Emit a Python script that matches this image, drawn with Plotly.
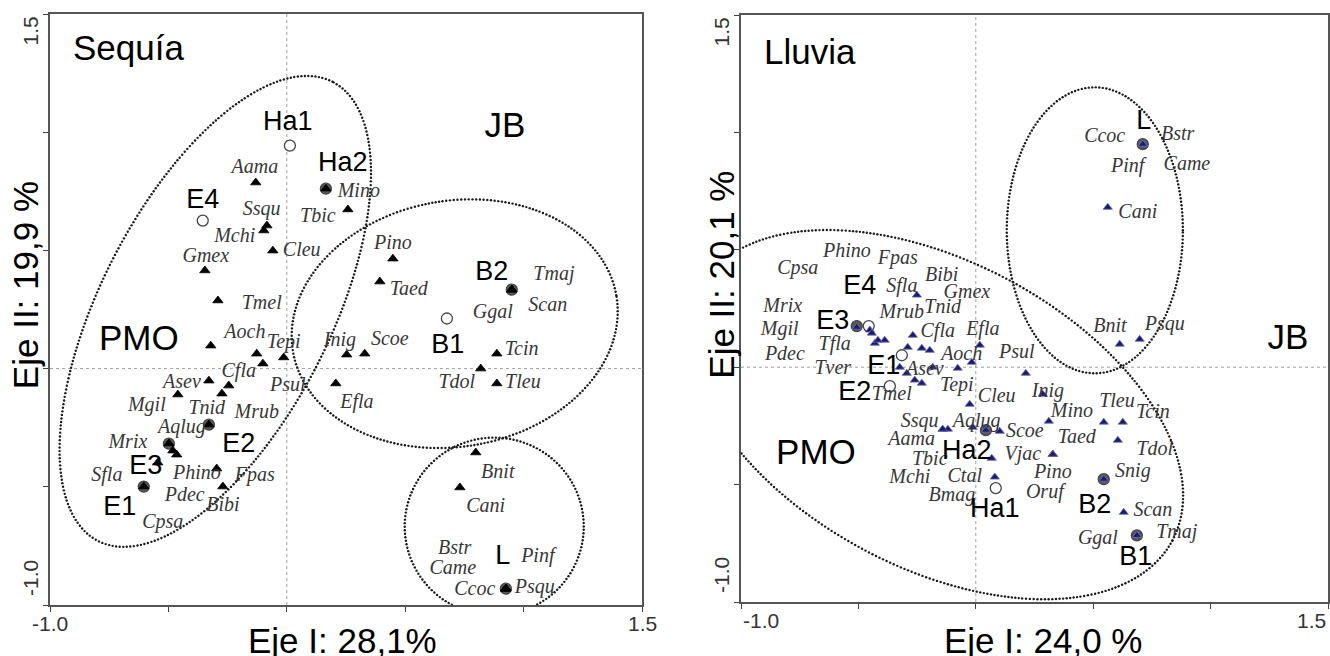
import math
import plotly.graph_objects as go

# ---------------- Sequía (left panel) ----------------
seq_sp_names = ["Aama", "Ssqu", "Mchi", "Cleu", "Gmex", "Tmel", "Mino", "Tbic", "Pino", "Taed",
                "Tmaj", "Scan", "Ggal", "Aoch", "Tepi", "Cfla", "Psul", "Asev", "Tnid", "Mrub",
                "Mgil", "Aqlug", "Mrix", "Phino", "Fpas", "Bibi", "Sfla", "Pdec", "Cpsa", "Inig",
                "Scoe", "Tcin", "Tdol", "Tleu", "Efla", "Bnit", "Cani", "Bstr", "Came", "Pinf",
                "Ccoc", "Psqu"]
seq_sp_x = [-0.131, -0.084, -0.097, -0.059, -0.346, -0.291, 0.165, 0.258, 0.448, 0.393,
            0.950, 0.950, 0.950, -0.321, -0.013, -0.127, -0.101, -0.329, -0.274, -0.245,
            -0.460, -0.329, -0.498, -0.296, -0.465, -0.270, -0.604, -0.481, -0.545, 0.253,
            0.329, 0.887, 0.819, 0.887, 0.207, 0.798, 0.731, 0.925, 0.925, 0.925,
            0.925, 0.925]
seq_sp_y = [0.787, 0.605, 0.584, 0.499, 0.415, 0.288, 0.761, 0.673, 0.465, 0.368,
            0.334, 0.334, 0.334, 0.097, 0.047, 0.063, 0.021, -0.051, -0.106, -0.072,
            -0.110, -0.237, -0.317, -0.423, -0.364, -0.499, -0.499, -0.347, -0.398, 0.059,
            0.063, 0.063, 0.000, -0.063, -0.063, -0.355, -0.503, -0.931, -0.931, -0.931,
            -0.931, -0.931]
seq_sp_lx = [-0.135, -0.106, -0.220, 0.063, -0.342, -0.106, 0.304, 0.131, 0.448, 0.515,
             1.128, 1.102, 0.870, -0.177, -0.013, -0.203, 0.004, -0.443, -0.338, -0.127,
             -0.591, -0.443, -0.671, -0.380, -0.135, -0.270, -0.760, -0.431, -0.524, 0.224,
             0.435, 0.992, 0.718, 0.997, 0.296, 0.891, 0.840, 0.709, 0.701, 1.060,
             0.794, 1.047]
seq_sp_ly = [0.850, 0.673, 0.558, 0.499, 0.474, 0.275, 0.745, 0.643, 0.529, 0.334,
             0.398, 0.266, 0.237, 0.152, 0.110, -0.013, -0.072, -0.059, -0.169, -0.186,
             -0.157, -0.250, -0.313, -0.444, -0.453, -0.580, -0.453, -0.537, -0.651, 0.118,
             0.123, 0.080, -0.063, -0.063, -0.144, -0.440, -0.584, -0.761, -0.846, -0.799,
             -0.935, -0.926]

seq_site_names = ["Ha1", "Ha2", "E4", "B2", "B1", "E2", "E3", "E1", "L"]
seq_site_x = [0.013, 0.165, -0.355, 0.950, 0.676, -0.329, -0.498, -0.604, 0.925]
seq_site_y = [0.943, 0.761, 0.626, 0.334, 0.212, -0.237, -0.317, -0.499, -0.931]
seq_site_lx = [0.004, 0.236, -0.355, 0.866, 0.680, -0.203, -0.596, -0.705, 0.912]
seq_site_ly = [1.036, 0.863, 0.707, 0.402, 0.093, -0.325, -0.419, -0.592, -0.799]

seq_group_names = ["PMO", "JB"]
seq_group_x = [-0.625, 0.921]
seq_group_y = [0.114, 1.015]

# ellipses: centre x, centre y, semi-axis a (along angle), semi-axis b, angle (deg)
seq_ell_cx = [-0.302, 0.709, 0.876]
seq_ell_cy = [0.242, 0.190, -0.668]
seq_ell_a = [1.090, 0.693, 0.378]
seq_ell_b = [0.486, 0.520, 0.376]
seq_ell_ang = [63, 10, 0]

# ---------------- Lluvia (right panel) ----------------
llu_sp_names = ["Phino", "Fpas", "Cpsa", "Bibi", "Sfla", "Gmex", "Mrix", "Tnid", "Mrub", "Mgil",
                "Pdec", "Tfla", "Tver", "Cfla", "Efla", "Aoch", "Asev", "Tepi", "Tmel", "Cleu",
                "Psul", "Ssqu", "Aqlug", "Scoe", "Aama", "Vjac", "Tbic", "Mchi", "Ctal", "Pino",
                "Oruf", "Bmag", "Inig", "Mino", "Tleu", "Tcin", "Taed", "Tdol", "Snig", "Scan",
                "Ggal", "Tmaj", "Bnit", "Psqu", "Ccoc", "Bstr", "Pinf", "Came", "Cani"]
llu_sp_x = [-0.430, -0.268, -0.388, -0.196, -0.251, -0.260, -0.507, -0.230, -0.290, -0.451,
            -0.443, -0.417, -0.324, -0.230, 0.017, -0.077, -0.183, -0.017, -0.294, -0.026,
            0.213, -0.141, -0.013, 0.102, -0.119, 0.068, 0.043, -0.141, 0.081, 0.328,
            0.328, 0.043, 0.285, 0.311, 0.545, 0.626, 0.328, 0.605, 0.545, 0.630,
            0.686, 0.686, 0.613, 0.698, 0.711, 0.711, 0.711, 0.711, 0.562]
llu_sp_y = [0.102, 0.136, 0.115, 0.072, 0.307, -0.055, 0.170, 0.081, 0.085, 0.158,
            0.145, 0.115, 0.000, -0.068, 0.094, -0.004, 0.000, 0.021, -0.026, -0.158,
            -0.026, -0.264, -0.256, -0.273, -0.264, -0.388, -0.268, -0.264, -0.468, -0.371,
            -0.371, -0.268, -0.115, -0.230, -0.234, -0.234, -0.371, -0.311, -0.477, -0.618,
            -0.716, -0.716, 0.098, 0.119, 0.950, 0.950, 0.950, 0.950, 0.681]
llu_sp_lx = [-0.549, -0.332, -0.758, -0.145, -0.315, -0.038, -0.822, -0.141, -0.315, -0.835,
             -0.813, -0.601, -0.609, -0.162, 0.030, -0.060, -0.217, -0.081, -0.358, 0.089,
             0.175, -0.239, 0.004, 0.209, -0.273, 0.200, -0.196, -0.281, -0.047, 0.328,
             0.294, -0.102, 0.307, 0.409, 0.601, 0.754, 0.430, 0.762, 0.669, 0.754,
             0.520, 0.856, 0.571, 0.805, 0.549, 0.860, 0.647, 0.899, 0.690]
llu_sp_ly = [0.490, 0.460, 0.417, 0.388, 0.341, 0.315, 0.256, 0.251, 0.230, 0.158,
             0.051, 0.094, -0.009, 0.149, 0.158, 0.051, -0.013, -0.081, -0.119, -0.128,
             0.060, -0.234, -0.234, -0.277, -0.311, -0.375, -0.396, -0.473, -0.468, -0.451,
             -0.537, -0.549, -0.106, -0.192, -0.149, -0.196, -0.302, -0.353, -0.447, -0.613,
             -0.733, -0.707, 0.170, 0.179, 0.980, 0.988, 0.852, 0.860, 0.656]

llu_site_names = ["L", "E4", "E3", "E1", "E2", "Ha2", "Ha1", "B2", "B1"]
llu_site_x = [0.711, -0.456, -0.507, -0.315, -0.366, 0.043, 0.085, 0.545, 0.686]
llu_site_y = [0.950, 0.175, 0.175, 0.051, -0.081, -0.268, -0.515, -0.477, -0.716]
llu_site_lx = [0.715, -0.494, -0.609, -0.392, -0.515, -0.038, 0.081, 0.507, 0.681]
llu_site_ly = [1.043, 0.341, 0.192, 0.000, -0.111, -0.362, -0.609, -0.592, -0.813]

llu_group_names = ["PMO", "JB"]
llu_group_x = [-0.681, 1.329]
llu_group_y = [-0.375, 0.115]

llu_ell_cx = [-0.170, 0.507]
llu_ell_cy = [-0.202, 0.583]
llu_ell_a = [1.141, 0.375]
llu_ell_b = [0.652, 0.609]
llu_ell_ang = [-28, 0]

# axis texts
ticks = [-1.0, -0.5, 0.0, 0.5, 1.0, 1.5]
tick_min_label = "-1.0"
tick_max_label = "1.5"
panel_titles = ["Sequía", "Lluvia"]
x_titles = ["Eje I: 28,1%", "Eje I: 24,0 %"]
y_titles = ["Eje II: 19,9 %", "Eje II: 20,1 %"]

SANS = "Liberation Sans, Arial, sans-serif"
SERIF = "Liberation Serif, Times New Roman, serif"


def ellipse_dots(cx, cy, a, b, ang_deg, step=0.0145):
    th = math.radians(ang_deg)
    n = 3000
    pts = []
    for i in range(n + 1):
        t = 2 * math.pi * i / n
        pts.append((cx + a * math.cos(t) * math.cos(th) - b * math.sin(t) * math.sin(th),
                    cy + a * math.cos(t) * math.sin(th) + b * math.sin(t) * math.cos(th)))
    xs, ys = [pts[0][0]], [pts[0][1]]
    acc = 0.0
    for (x0, y0), (x1, y1) in zip(pts[:-1], pts[1:]):
        acc += math.hypot(x1 - x0, y1 - y0)
        if acc >= step:
            xs.append(x1)
            ys.append(y1)
            acc = 0.0
    return xs, ys


fig = go.Figure()


def add_panel(xa, ya, sp_names, sp_x, sp_y, sp_lx, sp_ly, site_names, site_x, site_y,
              site_lx, site_ly, grp, gx, gy, ecx, ecy, ea, eb, eang, tri_color, tri_line, tri_size,
              sp_color):
    # dotted ellipses
    ex, ey = [], []
    for cx, cy, a, b, an in zip(ecx, ecy, ea, eb, eang):
        xs, ys = ellipse_dots(cx, cy, a, b, an)
        ex += xs + [None]
        ey += ys + [None]
    fig.add_trace(go.Scatter(x=ex, y=ey, mode="markers", xaxis=xa, yaxis=ya,
                             marker=dict(size=2.4, color="#1a1a1a", line=dict(width=0)),
                             cliponaxis=False, hoverinfo="skip"))
    # site circles (filled grey when a species sits on it)
    fills = []
    for sx, sy in zip(site_x, site_y):
        occupied = any(abs(sx - px) < 0.01 and abs(sy - py) < 0.01 for px, py in zip(sp_x, sp_y))
        fills.append("#5a5a5a" if occupied else "white")
    fig.add_trace(go.Scatter(x=site_x, y=site_y, mode="markers", xaxis=xa, yaxis=ya,
                             marker=dict(size=11, color=fills, symbol="circle",
                                         line=dict(color="#444444", width=1.3)),
                             cliponaxis=False, hoverinfo="skip"))
    # species triangles
    fig.add_trace(go.Scatter(x=sp_x, y=sp_y, mode="markers", xaxis=xa, yaxis=ya,
                             marker=dict(size=tri_size, color=tri_color, symbol="triangle-up",
                                         line=dict(color=tri_line, width=0.8)),
                             cliponaxis=False, hoverinfo="skip"))
    # species labels
    fig.add_trace(go.Scatter(x=sp_lx, y=sp_ly, mode="text", text=sp_names, xaxis=xa, yaxis=ya,
                             textposition="middle center",
                             textfont=dict(family=SERIF, size=20, color=sp_color, style="italic"),
                             cliponaxis=False, hoverinfo="skip"))
    # site labels
    fig.add_trace(go.Scatter(x=site_lx, y=site_ly, mode="text", text=site_names, xaxis=xa, yaxis=ya,
                             textposition="middle center",
                             textfont=dict(family=SANS, size=27, color="black"),
                             cliponaxis=False, hoverinfo="skip"))
    # group labels
    fig.add_trace(go.Scatter(x=gx, y=gy, mode="text", text=grp, xaxis=xa, yaxis=ya,
                             textposition="middle center",
                             textfont=dict(family=SANS, size=35, color="black"),
                             cliponaxis=False, hoverinfo="skip"))


add_panel("x", "y", seq_sp_names, seq_sp_x, seq_sp_y, seq_sp_lx, seq_sp_ly,
          seq_site_names, seq_site_x, seq_site_y, seq_site_lx, seq_site_ly,
          seq_group_names, seq_group_x, seq_group_y,
          seq_ell_cx, seq_ell_cy, seq_ell_a, seq_ell_b, seq_ell_ang,
          "black", "black", 9, "#383838")
add_panel("x2", "y2", llu_sp_names, llu_sp_x, llu_sp_y, llu_sp_lx, llu_sp_ly,
          llu_site_names, llu_site_x, llu_site_y, llu_site_lx, llu_site_ly,
          llu_group_names, llu_group_x, llu_group_y,
          llu_ell_cx, llu_ell_cy, llu_ell_a, llu_ell_b, llu_ell_ang,
          "#1c1c6e", "#6a6ab4", 8, "#383838")

axis_common = dict(range=[-1.0, 1.5], tickvals=ticks, ticks="outside", ticklen=5,
                   tickcolor="#444444", tickwidth=1.2, showline=True, mirror=True,
                   linecolor="#555555", linewidth=1.5, showgrid=False, zeroline=False,
                   showticklabels=False, automargin=False, fixedrange=True)

fig.update_layout(
    width=1330, height=656, autosize=False,
    margin=dict(l=0, r=0, t=0, b=0, pad=0, autoexpand=False),
    plot_bgcolor="white", paper_bgcolor="white",
    showlegend=False,
    xaxis=dict(domain=[50 / 1330, 642 / 1330], anchor="y", **axis_common),
    yaxis=dict(domain=[51 / 656, 642 / 656], anchor="x", **axis_common),
    xaxis2=dict(domain=[741 / 1330, 1328 / 1330], anchor="y2", **axis_common),
    yaxis2=dict(domain=[54 / 656, 641 / 656], anchor="x2", **axis_common),
)

# dotted centre lines
for xr, yr in (("x", "y"), ("x2", "y2")):
    fig.add_shape(type="line", xref=xr, yref=yr, x0=0, x1=0, y0=-1.0, y1=1.5,
                  line=dict(color="#a0a0a0", width=1, dash="dot"), layer="below")
    fig.add_shape(type="line", xref=xr, yref=yr, x0=-1.0, x1=1.5, y0=0, y1=0,
                  line=dict(color="#a0a0a0", width=1, dash="dot"), layer="below")

tick_font = dict(family=SANS, size=21, color="#333333")
title_font = dict(family=SANS, size=35, color="black")

# panel titles
fig.add_annotation(xref="x", yref="y", x=-0.912, y=1.358, text=panel_titles[0], showarrow=False,
                   xanchor="left", yanchor="middle", font=title_font)
fig.add_annotation(xref="x2", yref="y2", x=-0.911, y=1.346, text=panel_titles[1], showarrow=False,
                   xanchor="left", yanchor="middle", font=title_font)

# tick labels (end values only, as in the original)
for xr, yr in (("x", "y"), ("x2", "y2")):
    fig.add_annotation(xref=xr, yref=yr, x=-1.0, y=1.5, text=tick_max_label, showarrow=False,
                       textangle=-90, xshift=-20, yshift=-1, xanchor="center", yanchor="top",
                       font=tick_font)
    fig.add_annotation(xref=xr, yref=yr, x=-1.0, y=-1.0, text=tick_min_label, showarrow=False,
                       textangle=-90, xshift=-20, yshift=7, xanchor="center", yanchor="bottom",
                       font=tick_font)
fig.add_annotation(xref="x", yref="y", x=-1.0, y=-1.0, text=tick_min_label, showarrow=False,
                   yshift=-18, xanchor="center", yanchor="middle", font=tick_font)
fig.add_annotation(xref="x", yref="y", x=1.5, y=-1.0, text=tick_max_label, showarrow=False,
                   yshift=-18, xanchor="center", yanchor="middle", font=tick_font)
fig.add_annotation(xref="x2", yref="y2", x=-1.0, y=-1.0, text=tick_min_label, showarrow=False,
                   yshift=-18, xanchor="left", yanchor="middle", font=tick_font)
fig.add_annotation(xref="x2", yref="y2", x=1.5, y=-1.0, text=tick_max_label, showarrow=False,
                   yshift=-18, xanchor="right", yanchor="middle", font=tick_font)

# axis titles
fig.add_annotation(xref="x", yref="paper", x=0.236, y=16 / 656, text=x_titles[0], showarrow=False,
                   xanchor="center", yanchor="middle", font=title_font)
fig.add_annotation(xref="x2", yref="paper", x=0.287, y=16 / 656, text=x_titles[1], showarrow=False,
                   xanchor="center", yanchor="middle", font=title_font)
fig.add_annotation(xref="paper", yref="y", x=25 / 1330, y=0.353, text=y_titles[0], showarrow=False,
                   textangle=-90, xanchor="center", yanchor="middle", font=title_font)
fig.add_annotation(xref="paper", yref="y2", x=722 / 1330, y=0.394, text=y_titles[1], showarrow=False,
                   textangle=-90, xanchor="center", yanchor="middle", font=title_font)

fig.write_html("out.html",
               config={"displayModeBar": False},
               post_script="document.body.style.margin='0px';"
                           "document.documentElement.style.overflow='hidden';")
